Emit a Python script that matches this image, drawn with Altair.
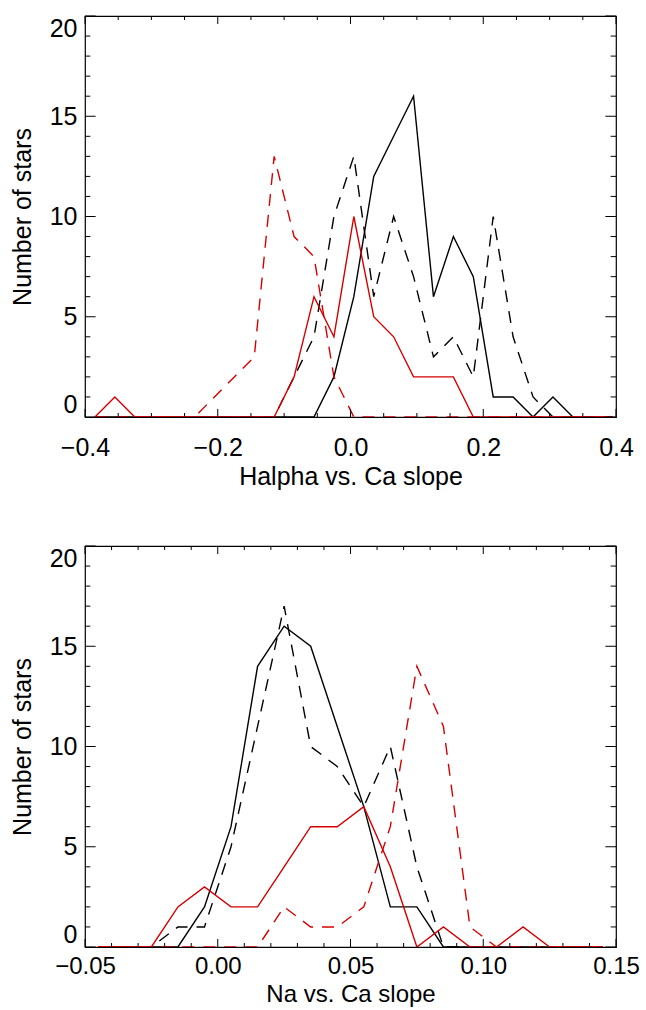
import altair as alt
import pandas as pd

# ---------------- data ----------------
top_x = [-0.385, -0.355, -0.325, -0.295, -0.265, -0.235, -0.205, -0.175, -0.145,
         -0.115, -0.085, -0.055, -0.025, 0.005, 0.035, 0.065, 0.095, 0.125,
         0.155, 0.185, 0.215, 0.245, 0.275, 0.305, 0.335, 0.365, 0.395]
top_black_solid = [0, 0, 0, 0, 0, 0, 0, 0, 0, 0, 0, 0, 2, 6, 12, 14, 16, 6, 9, 7, 1, 1, 0, 1, 0, 0, 0]
top_black_dash = [0, 0, 0, 0, 0, 0, 0, 0, 0, 0, 2, 4, 10, 13, 6, 10, 7, 3, 4, 2, 10, 4, 1, 0, 0, 0, 0]
top_red_solid = [0, 1, 0, 0, 0, 0, 0, 0, 0, 0, 2, 6, 4, 10, 5, 4, 2, 2, 2, 0, 0, 0, 0, 0, 0, 0, 0]
top_red_dash = [0, 0, 0, 0, 0, 0, 1, 2, 3, 13, 9, 8, 2, 0, 0, 0, 0, 0, 0, 0, 0, 0, 0, 0, 0, 0, 0]

bot_x = [-0.045, -0.035, -0.025, -0.015, -0.005, 0.005, 0.015, 0.025, 0.035, 0.045,
         0.055, 0.065, 0.075, 0.085, 0.095, 0.105, 0.115, 0.125, 0.135, 0.145]
bot_black_solid = [0, 0, 0, 0, 2, 6, 14, 16, 15, 11, 7, 2, 2, 0, 0, 0, 0, 0, 0, 0]
bot_black_dash = [0, 0, 0, 1, 1, 5, 11, 17, 10, 9, 7, 10, 4, 0, 0, 0, 0, 0, 0, 0]
bot_red_solid = [0, 0, 0, 2, 3, 2, 2, 4, 6, 6, 7, 4, 0, 1, 0, 0, 1, 0, 0, 0]
bot_red_dash = [0, 0, 0, 0, 0, 0, 0, 2, 1, 1, 2, 6, 14, 11, 1, 0, 0, 0, 0, 0]

y_major = [0, 5, 10, 15, 20]
y_minor = [v for v in range(0, 21) if v % 5 != 0]

top_domain = [-0.4, 0.4]
top_major = [-0.4, -0.2, 0.0, 0.2, 0.4]
top_minor = [-0.35, -0.3, -0.25, -0.15, -0.1, -0.05, 0.05, 0.1, 0.15, 0.25, 0.3, 0.35]

bot_domain = [-0.05, 0.15]
bot_major = [-0.05, 0.0, 0.05, 0.10, 0.15]
bot_minor = [-0.04, -0.03, -0.02, -0.01, 0.01, 0.02, 0.03, 0.04, 0.06, 0.07, 0.08, 0.09,
             0.11, 0.12, 0.13, 0.14]

# ---------------- style ----------------
W, H = 531, 401
RED = "#d40000"
FONT = "Liberation Sans"
FS = 25
LW = 1.4
DASH = [12, 9]
YT_MAJ, YT_MIN = 10.6, 5.3   # tick lengths of y-axis ticks (horizontal)
XT_MAJ, XT_MIN = 8.0, 4.0    # tick lengths of x-axis ticks (vertical)


def panel(xs_vals, series, domain, major, minor, fmt, xtitle, tpad, lpad, xfs):
    df = pd.DataFrame({"x": xs_vals})
    for k, v in series.items():
        df[k] = v
    xs = alt.Scale(domain=domain, nice=False, zero=False)
    ys = alt.Scale(domain=[0, 20], nice=False, zero=False)

    x_axis = alt.Axis(values=major, format=fmt, ticks=False, tickSize=0, domain=False,
                      grid=False, labelPadding=lpad, labelFlush=False, labelFontSize=xfs,
                      labelColor="black", title=xtitle, titleFontSize=xfs,
                      titleFontWeight="normal", titleColor="black", titlePadding=tpad)
    y_axis = alt.Axis(values=y_major, format="d", ticks=False, tickSize=0, domain=False,
                      grid=False, labelPadding=8, labelFlush=True, labelFontSize=FS,
                      labelColor="black", title="Number of stars", titleFontSize=FS,
                      titleFontWeight="normal", titleColor="black", titlePadding=14)

    layers = []
    specs = [("bs", "black", None), ("bd", "black", DASH), ("rs", RED, None), ("rd", RED, DASH)]
    for name, color, dash in specs:
        mk = dict(color=color, strokeWidth=LW, clip=True, strokeJoin="miter")
        if dash:
            mk["strokeDash"] = dash
        layers.append(
            alt.Chart(df).mark_line(**mk).encode(
                x=alt.X("x:Q", scale=xs, axis=x_axis),
                y=alt.Y(f"{name}:Q", scale=ys, axis=y_axis),
            )
        )

    ymaj = pd.DataFrame({"v": y_major})
    ymin = pd.DataFrame({"v": y_minor})
    xmaj = pd.DataFrame({"v": major})
    xmin = pd.DataFrame({"v": minor})
    tick_style = dict(color="black", strokeWidth=1)
    for d, ln in [(ymaj, YT_MAJ), (ymin, YT_MIN)]:
        layers.append(alt.Chart(d).mark_rule(**tick_style).encode(
            y=alt.Y("v:Q", scale=ys, axis=y_axis), x=alt.value(0), x2=alt.value(ln)))
        layers.append(alt.Chart(d).mark_rule(**tick_style).encode(
            y=alt.Y("v:Q", scale=ys, axis=y_axis), x=alt.value(W), x2=alt.value(W - ln)))
    for d, ln in [(xmaj, XT_MAJ), (xmin, XT_MIN)]:
        layers.append(alt.Chart(d).mark_rule(**tick_style).encode(
            x=alt.X("v:Q", scale=xs, axis=x_axis), y=alt.value(H), y2=alt.value(H - ln)))
        layers.append(alt.Chart(d).mark_rule(**tick_style).encode(
            x=alt.X("v:Q", scale=xs, axis=x_axis), y=alt.value(0), y2=alt.value(ln)))

    return alt.layer(*layers).properties(width=W, height=H)


top = panel(top_x, {"bs": top_black_solid, "bd": top_black_dash,
                    "rs": top_red_solid, "rd": top_red_dash},
            top_domain, top_major, top_minor, ".1f", "Halpha vs. Ca slope", 4, 18, FS)
bottom = panel(bot_x, {"bs": bot_black_solid, "bd": bot_black_dash,
                       "rs": bot_red_solid, "rd": bot_red_dash},
               bot_domain, bot_major, bot_minor, ".2f", "Na vs. Ca slope", 4, 7, 24)

chart = alt.vconcat(top, bottom, spacing=129, bounds="flush").properties(
    padding={"left": 9, "top": 14, "right": 0, "bottom": 0},
    background="white",
).configure_view(stroke="black", strokeWidth=1.2).configure_axis(
    labelFont=FONT, titleFont=FONT
)

chart.save("out.html", embed_options={"renderer": "svg", "actions": False})
